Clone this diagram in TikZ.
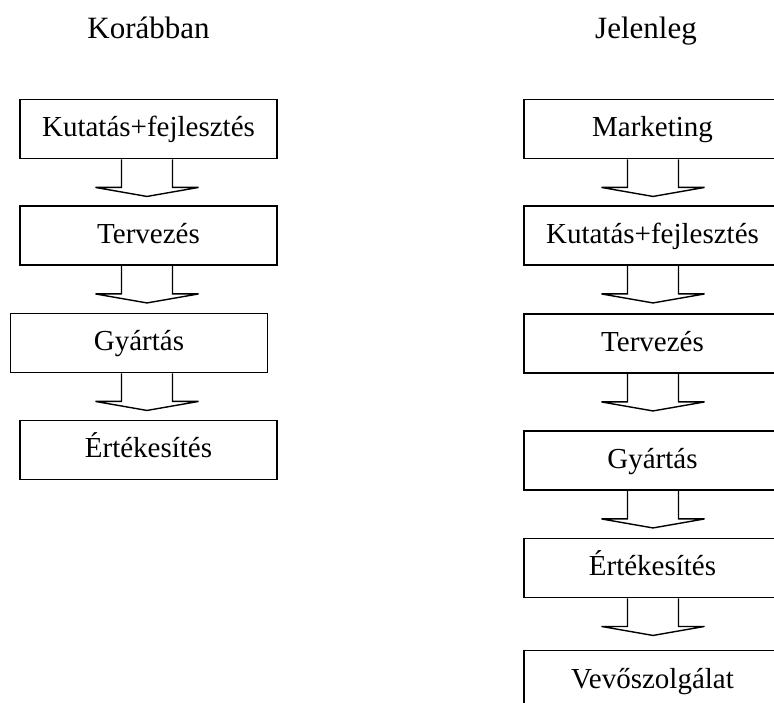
\documentclass[tikz,border=0pt]{standalone}
\usepackage{fontspec}
\setmainfont{Liberation Serif}
\usetikzlibrary{calc}

% Hollow block arrow hanging below a stage box, centred on a column axis
\newcommand\flowstep[3]{%
  \coordinate (fs-top) at (#1.south -| #3);
  \coordinate (fs-tip) at ($(#1.south -| #3)!37pt!(#2.north -| #3)$);
  \draw[flow] ($(fs-top)+(-25.5,0)$) -- ($(fs-top)+(-25.5,-28)$)
    -- ($(fs-top)+(-51.5,-28)$) -- (fs-tip) -- ($(fs-top)+(51.5,-28)$)
    -- ($(fs-top)+(25.5,-28)$) -- ($(fs-top)+(25.5,0)$);}

\begin{document}
\begin{tikzpicture}[x=1pt,y=1pt,
  stage/.style={draw, line width=1.9pt, minimum width=257pt, minimum height=59pt,
    inner sep=0pt, text height=16pt, text depth=0pt,
    font=\fontsize{29}{34}\selectfont},
  heading/.style={anchor=base, inner sep=0pt, font=\fontsize{31}{36}\selectfont},
  flow/.style={draw, line width=1.4pt, line join=miter}]
\clip (0,0) rectangle (774,702);

% column axes
\coordinate (colL) at (147,0);
\coordinate (colR) at (653,0);

% headings
\node[heading] (hL) at (148.5,663) {Korábban};
\node[heading] (hR) at (646,663) {Jelenleg};

% earlier process
\node[stage] (L1) at (148.5,573)   {Kutatás+fejlesztés};
\node[stage] (L2) at (148.5,466.5) {Tervezés};
\node[stage] (L3) at (139,359)     {Gyártás};
\node[stage] (L4) at (148.5,252)   {Értékesítés};

% current process
\node[stage] (R1) at (652.5,573)   {Marketing};
\node[stage] (R2) at (652.5,466.5) {Kutatás+fejlesztés};
\node[stage] (R3) at (652.5,358.5) {Tervezés};
\node[stage] (R4) at (652.5,241.5) {Gyártás};
\node[stage] (R5) at (652.5,134)   {Értékesítés};
\node[stage] (R6) at (652.5,22)    {Vevőszolgálat};

\flowstep{L1}{L2}{colL}
\flowstep{L2}{L3}{colL}
\flowstep{L3}{L4}{colL}

\flowstep{R1}{R2}{colR}
\flowstep{R2}{R3}{colR}
\flowstep{R3}{R4}{colR}
\flowstep{R4}{R5}{colR}
\flowstep{R5}{R6}{colR}
\end{tikzpicture}
\end{document}
